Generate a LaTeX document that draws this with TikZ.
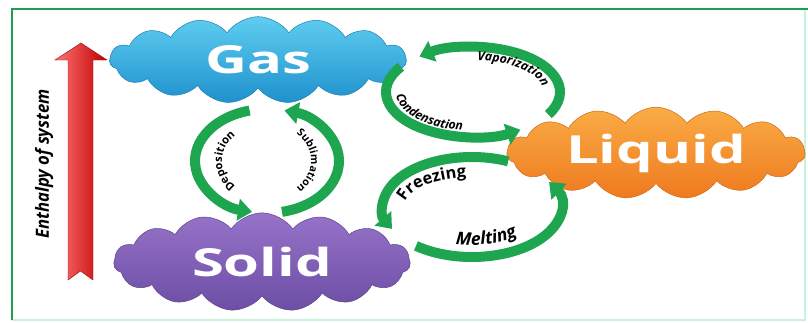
\documentclass[tikz,border=0pt]{standalone}
\usepackage{fontspec}
\setsansfont{Open Sans}
\usetikzlibrary{shapes.symbols,arrows.meta,decorations.text,positioning}

\definecolor{framegreen}{RGB}{28,158,78}
\definecolor{palegreen}{RGB}{195,245,220}
\definecolor{cycgreen}{RGB}{30,165,80}
\definecolor{gastop}{RGB}{95,205,240}
\definecolor{gasbot}{RGB}{30,145,205}
\definecolor{liqtop}{RGB}{250,172,70}
\definecolor{liqbot}{RGB}{238,122,30}
\definecolor{soltop}{RGB}{150,115,200}
\definecolor{solbot}{RGB}{108,78,165}
\definecolor{arrowred}{RGB}{150,25,30}

\newcommand{\lblfont}[1]{\sffamily\bfseries\fontsize{#1}{#1}\selectfont}

\tikzset{
  phase/.style={cloud, cloud puffs=15, cloud puff arc=110, cloud ignores aspect,
    inner sep=0pt, text=white, font=\sffamily\bfseries\fontsize{33}{36}\selectfont},
  cycarc/.style={draw=cycgreen, line width=0.3cm, -{Triangle[width=0.64cm,length=0.42cm]}},
  arclabel/.style={decorate, decoration={text along path, text align=center, text={#1}}}
}

\begin{document}
\begin{tikzpicture}[x=0.03cm, y=0.03cm]

    \useasboundingbox (0,0) rectangle (808,322);

    \draw[palegreen, line width=1.5pt] (12,2) -- (805,2) -- (805,313);
    \draw[framegreen, line width=2.5pt] (12,2) -- (12,313) -- (808,313);

    \draw[draw=arrowred, left color=red!55!white, right color=red!75!black] (68,42) -- (68,262) -- (55,262) -- (81,279) -- (107,262) -- (93,262) -- (93,42) -- (80.5,51) -- cycle;
    \node (enth) at (44,158) [rotate=90, font=\sffamily\bfseries\itshape\fontsize{15.5}{18}\selectfont] {\scalebox{0.92}[1]{Enthalpy of system}};

    \node (gas) at (258,262) [phase, minimum width=8.9cm, minimum height=2.6cm, top color=gastop, bottom color=gasbot, draw=gasbot!85!black] {\scalebox{1.5}[1]{Gas}};
    \node (liquid) at (656,169) [phase, minimum width=8.95cm, minimum height=2.75cm, top color=liqtop, bottom color=liqbot, draw=liqbot!85!black] {\scalebox{1.5}[1]{Liquid}};
    \node (solid) at (262,60) [phase, minimum width=8.9cm, minimum height=2.95cm, top color=soltop, bottom color=solbot, draw=solbot!85!black] {\scalebox{1.5}[1]{Solid}};

    \coordinate (dsc) at (267,161);
    \coordinate (vcc) at (473,230);
    \coordinate (fmc) at (472,115);

    \draw[cycarc] (dsc) ++(104:72 and 52) arc[start angle=104, end angle=258, x radius=72, y radius=52];
    \draw[cycarc] (dsc) ++(282:72 and 52) arc[start angle=282, end angle=436, x radius=72, y radius=52];
    \path[arclabel={|\lblfont{9.5}|Deposition}] (dsc) ++(240:45 and 36) arc[start angle=240, end angle=120, x radius=45, y radius=36];
    \path[arclabel={|\lblfont{9}|Sublimation}] (dsc) ++(62:44 and 36) arc[start angle=62, end angle=-62, x radius=44, y radius=36];

    \draw[cycarc] (vcc) ++(-30:87 and 45) arc[start angle=-30, end angle=128, x radius=87, y radius=45];
    \draw[cycarc] (vcc) ++(146:87 and 45) arc[start angle=146, end angle=303, x radius=87, y radius=45];
    \path[arclabel={|\lblfont{10.5}\itshape|Vaporization}] (vcc) ++(100:70 and 32) arc[start angle=100, end angle=-20, x radius=70, y radius=32];
    \path[arclabel={|\lblfont{10.5}\itshape|Condensation}] (vcc) ++(145:77 and 39) arc[start angle=145, end angle=285, x radius=77, y radius=39];

    \draw[cycarc] (fmc) ++(66:89 and 50) arc[start angle=66, end angle=206, x radius=89, y radius=50];
    \draw[cycarc] (fmc) ++(231:89 and 50) arc[start angle=231, end angle=390, x radius=89, y radius=50];
    \path[arclabel={|\lblfont{14}|Freezing}] (fmc) ++(205:68 and 30) arc[start angle=205, end angle=78, x radius=68, y radius=30];
    \path[arclabel={|\lblfont{15}\itshape|Melting}] (fmc) ++(230:70 and 38) arc[start angle=230, end angle=345, x radius=70, y radius=38];

\end{tikzpicture}
\end{document}
